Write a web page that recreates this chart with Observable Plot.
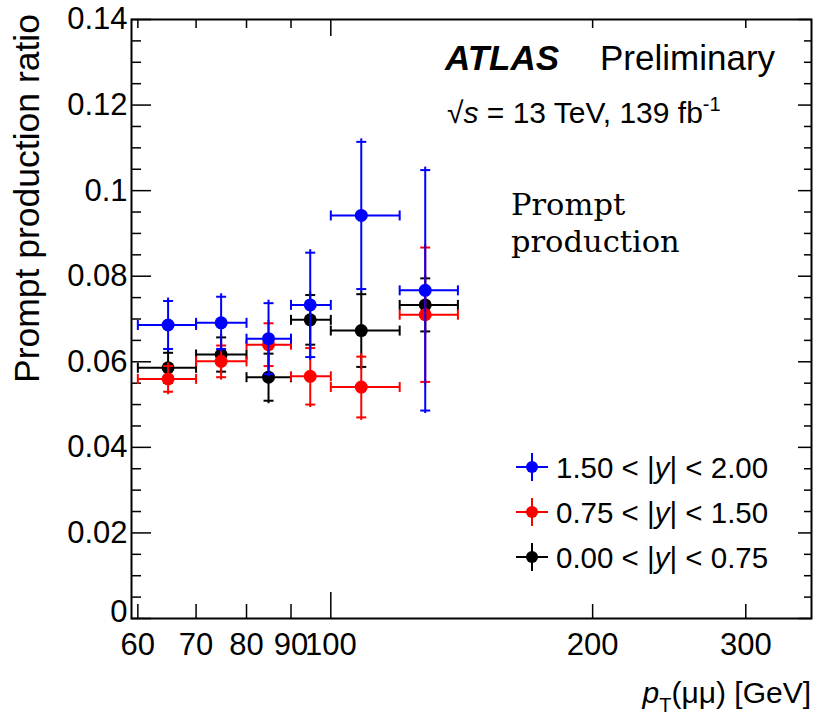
<!DOCTYPE html>
<html><head><meta charset="utf-8">
<script src="https://cdn.jsdelivr.net/npm/d3@7"></script>
<script src="https://cdn.jsdelivr.net/npm/@observablehq/plot@0.6"></script>
<style>body{margin:0;background:#fff} #chart{width:821px;height:722px}</style>
</head><body><div id="chart"></div>
<script>
// ---- data ----
const binLow = [60, 70, 80, 90, 100, 120];
const binHigh = [70, 80, 90, 100, 120, 140];
const ptCenter = [65, 74.8, 84.8, 94.7, 108.4, 128.4];

const seriesLabels = ["1.50 < |y| < 2.00", "0.75 < |y| < 1.50", "0.00 < |y| < 0.75"];
const seriesColors = ["#0000ff", "#ff0000", "#000000"];

const ratioForward = [0.0686, 0.0691, 0.0654, 0.0733, 0.0942, 0.0767];
const errorForward = [0.0056, 0.0061, 0.0083, 0.0122, 0.0172, 0.0281];
const ratioMiddle = [0.0560, 0.0601, 0.0640, 0.0566, 0.0541, 0.0710];
const errorMiddle = [0.0030, 0.0037, 0.0050, 0.0066, 0.0071, 0.0157];
const ratioCentral = [0.0586, 0.0617, 0.0564, 0.0698, 0.0673, 0.0733];
const errorCentral = [0.0035, 0.0040, 0.0055, 0.0058, 0.0085, 0.0062];

const xTicks = [60, 70, 80, 90, 100, 200, 300];
const yTicks = [0, 0.02, 0.04, 0.06, 0.08, 0.1, 0.12, 0.14];
const yTickLabels = ["0", "0.02", "0.04", "0.06", "0.08", "0.1", "0.12", "0.14"];
const yMinorStep = 0.005;

// ---- layout ----
const W = 821, H = 722;
const mL = 131, mR = 10, mT = 19, mB = 104;
const fw = W - mL - mR, fh = H - mT - mB;
const font = "Liberation Sans, Arial, sans-serif";

const seriesValues = [ratioForward, ratioMiddle, ratioCentral];
const seriesErrors = [errorForward, errorMiddle, errorCentral];
const series = seriesLabels.map((label, s) => ({
  label, color: seriesColors[s],
  rows: ptCenter.map((xc, i) => ({xc, lo: binLow[i], hi: binHigh[i], v: seriesValues[s][i], e: seriesErrors[s][i]}))
}));

const yMinor = d3.range(0, 0.14 + 1e-9, yMinorStep).filter(v => !yTicks.some(t => Math.abs(t - v) < 1e-9));
const isDecade = d => Math.abs(Math.log10(d) % 1) < 1e-9;
const yLabel = d => yTickLabels[yTicks.indexOf(d)];

const hCap = {draw(ctx) { ctx.moveTo(-5, 0); ctx.lineTo(5, 0); }};
const vCap = {draw(ctx) { ctx.moveTo(0, -5); ctx.lineTo(0, 5); }};

const marks = [];
// ticks (inward)
marks.push(Plot.ruleY(yMinor, {y: d => d, insetRight: fw - 10, stroke: "black", strokeWidth: 1.5}));
marks.push(Plot.ruleY(yTicks, {y: d => d, insetRight: fw - 20, stroke: "black", strokeWidth: 1.5}));
marks.push(Plot.ruleY(yMinor, {y: d => d, insetLeft: fw - 7, stroke: "black", strokeWidth: 1.5}));
marks.push(Plot.ruleY(yTicks, {y: d => d, insetLeft: fw - 13, stroke: "black", strokeWidth: 1.5}));
marks.push(Plot.ruleX(xTicks.filter(d => !isDecade(d)), {x: d => d, insetTop: fh - 14, stroke: "black", strokeWidth: 1.5}));
marks.push(Plot.ruleX(xTicks.filter(isDecade), {x: d => d, insetTop: fh - 26, stroke: "black", strokeWidth: 1.5}));
marks.push(Plot.ruleX(xTicks.filter(d => !isDecade(d)), {x: d => d, insetBottom: fh - 9, stroke: "black", strokeWidth: 1.5}));
marks.push(Plot.ruleX(xTicks.filter(isDecade), {x: d => d, insetBottom: fh - 17, stroke: "black", strokeWidth: 1.5}));

// data: draw black, red, blue (blue on top)
for (const s of [...series].reverse()) {
  const c = s.color;
  marks.push(Plot.ruleY(s.rows, {y: "v", x1: "lo", x2: "hi", stroke: c, strokeWidth: 2}));
  marks.push(Plot.dot(s.rows, {x: "lo", y: "v", symbol: vCap, fill: "none", stroke: c, strokeWidth: 2}));
  marks.push(Plot.dot(s.rows, {x: "hi", y: "v", symbol: vCap, fill: "none", stroke: c, strokeWidth: 2}));
  marks.push(Plot.ruleX(s.rows, {x: "xc", y1: d => d.v + d.e, y2: d => d.v - d.e, insetTop: -3, insetBottom: -3, stroke: c, strokeWidth: 2}));
  marks.push(Plot.dot(s.rows, {x: "xc", y: d => d.v + d.e, symbol: hCap, fill: "none", stroke: c, strokeWidth: 2}));
  marks.push(Plot.dot(s.rows, {x: "xc", y: d => d.v - d.e, symbol: hCap, fill: "none", stroke: c, strokeWidth: 2}));
  marks.push(Plot.dot(s.rows, {x: "xc", y: "v", r: 6.5, fill: c, stroke: "none"}));
}

marks.push(Plot.frame({stroke: "black", strokeWidth: 2}));
marks.push(Plot.axisY(yTicks.filter(d => d > 0), {tickSize: 0, tickPadding: 4, tickFormat: yLabel, fontSize: 31, label: null}));
marks.push(Plot.axisY(yTicks.filter(d => d === 0), {tickSize: 0, tickPadding: 4, tickFormat: yLabel, fontSize: 31, dy: -6, label: null}));
marks.push(Plot.axisX(xTicks, {tickSize: 0, tickPadding: 14, tickFormat: d => String(d), fontSize: 31, label: null}));

const plot = Plot.plot({
  width: W, height: H,
  marginLeft: mL, marginRight: mR, marginTop: mT, marginBottom: mB,
  x: {type: "log", domain: [59, 357]},
  y: {type: "linear", domain: [0, 0.14]},
  style: {fontFamily: font, color: "black", background: "white", overflow: "visible"},
  marks
});
document.getElementById("chart").appendChild(plot);

// ---- annotations ----
const svg = d3.select(plot);
const g = svg.append("g").attr("font-family", font).attr("fill", "black").attr("text-anchor", "start");

// y title
g.append("text").attr("transform", `translate(${mL - 92},${mT - 5}) rotate(-90)`)
  .attr("text-anchor", "end").attr("font-size", 35.5).text("Prompt production ratio");

// x title
const xt = g.append("text").attr("x", W - mR).attr("y", H - 19).attr("text-anchor", "end").attr("font-size", 30);
xt.append("tspan").attr("font-style", "italic").text("p");
xt.append("tspan").attr("font-size", 20).attr("dy", 9).text("T");
xt.append("tspan").attr("dy", -9).text("(μμ) [GeV]");

// ATLAS label
g.append("text").attr("x", mL + 314).attr("y", mT + 51).attr("font-size", 35)
  .attr("font-weight", "bold").attr("font-style", "italic").text("ATLAS");
g.append("text").attr("x", mL + 469).attr("y", mT + 51).attr("font-size", 35).text("Preliminary");
const en = g.append("text").attr("x", mL + 316).attr("y", mT + 104).attr("font-size", 30);
en.append("tspan").text("√");
en.append("tspan").attr("font-style", "italic").text("s");
en.append("tspan").text(" = 13 TeV, 139 fb");
en.append("tspan").attr("font-size", 20).attr("dy", -12).text("-1");

// Prompt production
const pp = g.append("text").attr("font-family", "DejaVu Serif, serif").attr("font-size", 30.5);
pp.append("tspan").attr("x", mL + 380).attr("y", mT + 196).text("Prompt");
pp.append("tspan").attr("x", mL + 380).attr("y", mT + 233).text("production");

// legend
series.forEach((s, i) => {
  const cx = mL + 401, cy = mT + 448 + 45 * i;
  const lg = g.append("g");
  lg.append("line").attr("x1", cx - 16).attr("x2", cx + 16).attr("y1", cy).attr("y2", cy).attr("stroke", s.color).attr("stroke-width", 2);
  lg.append("line").attr("x1", cx).attr("x2", cx).attr("y1", cy - 14).attr("y2", cy + 14).attr("stroke", s.color).attr("stroke-width", 2);
  lg.append("circle").attr("cx", cx).attr("cy", cy).attr("r", 6).attr("fill", s.color);
  const parts = s.label.split("y");
  const t = lg.append("text").attr("x", cx + 24).attr("y", cy + 10.5).attr("font-size", 29.5);
  t.append("tspan").text(parts[0]);
  t.append("tspan").attr("font-style", "italic").text("y");
  t.append("tspan").text(parts[1]);
});
</script>
</body></html>
